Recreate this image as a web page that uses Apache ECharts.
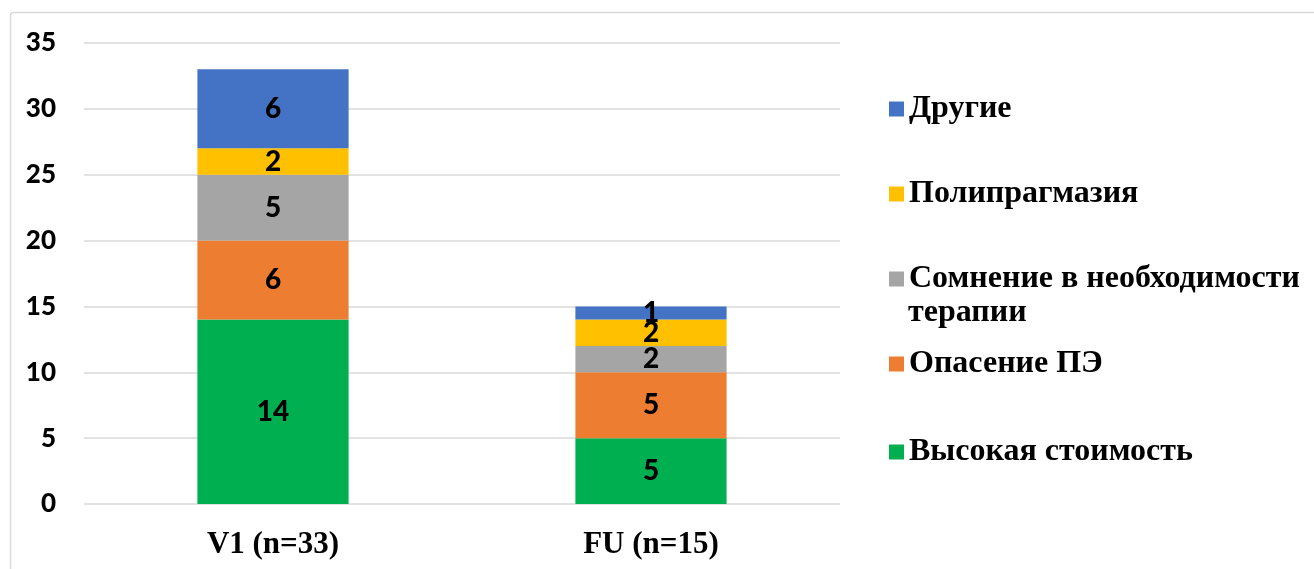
<!DOCTYPE html>
<html>
<head>
<meta charset="utf-8">
<script src="https://cdn.jsdelivr.net/npm/echarts@6/dist/echarts.min.js"></script>
<style>
html,body{margin:0;padding:0;background:#fff;}
#chart{width:1314px;height:569px;}
</style>
</head>
<body>
<div id="chart"></div>
<script>
const categories = ['V1 (n=33)', 'FU (n=15)'];
const seriesNames = ['Высокая стоимость', 'Опасение ПЭ', 'Сомнение в необходимости терапии', 'Полипрагмазия', 'Другие'];
const highCost = [14, 5];
const fearSideEffects = [6, 5];
const doubtNeed = [5, 2];
const polypharmacy = [2, 2];
const other = [6, 1];
const yTicks = [0, 5, 10, 15, 20, 25, 30, 35];

const colors = ['#00B050', '#ED7D31', '#A5A5A5', '#FFC000', '#4472C4'];
const values = [highCost, fearSideEffects, doubtNeed, polypharmacy, other];

const chart = echarts.init(document.getElementById('chart'));

const legendTops = [88, 173, 258, 343, 431];
const legendOrder = [4, 3, 2, 1, 0];
const legends = legendOrder.map((si, i) => ({
  data: [seriesNames[si]],
  left: 884,
  top: legendTops[i],
  orient: 'vertical',
  itemWidth: 15,
  itemHeight: 15,
  icon: 'rect',
  selectedMode: false,
  formatter: n => n === 'Сомнение в необходимости терапии' ? 'Сомнение в необходимости' : n,
  textStyle: {
    fontFamily: 'Liberation Serif',
    fontWeight: 'bold',
    fontSize: 32,
    color: '#000'
  }
}));

chart.setOption({
  animation: false,
  color: colors,
  grid: { left: 84, right: 474, top: 43, bottom: 65, containLabel: false },
  legend: legends,
  graphic: [
    {
      type: 'rect',
      shape: { x: 10.5, y: 12.5, width: 1400, height: 700, r: 3 },
      style: { fill: 'none', stroke: '#D9D9D9', lineWidth: 1.5 },
      silent: true
    },
    {
      type: 'text',
      left: 908,
      top: 297,
      style: {
        text: 'терапии',
        font: 'bold 32px "Liberation Serif"',
        fill: '#000'
      }
    }
  ],
  xAxis: {
    type: 'category',
    data: categories,
    axisLine: { show: false },
    axisTick: { show: false },
    axisLabel: {
      margin: 25,
      fontFamily: 'Liberation Serif',
      fontWeight: 'bold',
      fontSize: 31,
      color: '#000'
    }
  },
  yAxis: {
    type: 'value',
    min: yTicks[0],
    max: yTicks[yTicks.length - 1],
    interval: 5,
    axisLine: { show: false },
    axisTick: { show: false },
    splitLine: { lineStyle: { color: '#D9D9D9', width: 1.5 } },
    axisLabel: {
      margin: 28,
      fontFamily: 'Lato',
      fontWeight: 900,
      fontSize: 26,
      color: '#000'
    }
  },
  series: seriesNames.map((name, i) => ({
    name: name,
    type: 'bar',
    stack: 'total',
    barWidth: '40%',
    data: values[i],
    itemStyle: { color: colors[i] },
    label: {
      show: true,
      position: 'inside',
      fontFamily: 'Lato',
      fontWeight: 900,
      fontSize: 28,
      color: '#000'
    }
  }))
});
</script>
</body>
</html>
